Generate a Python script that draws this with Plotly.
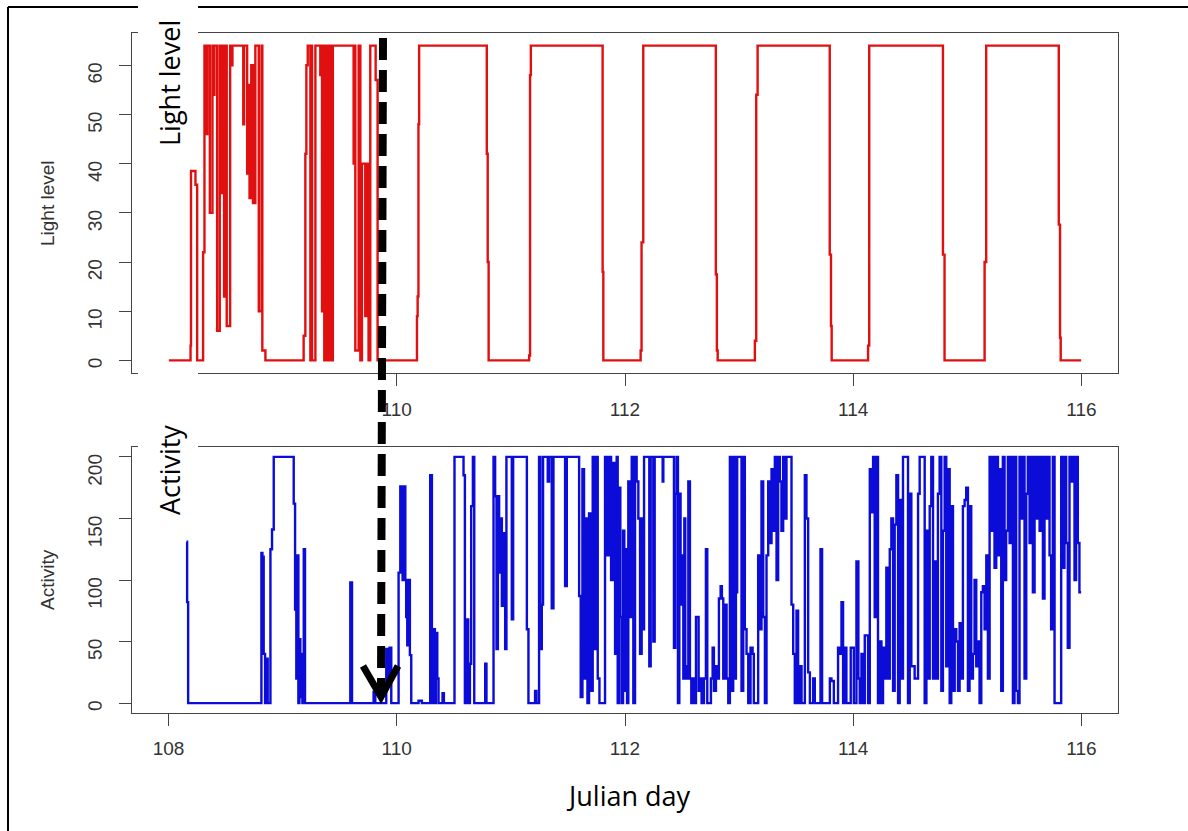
import plotly.graph_objects as go

# ---------------- data ----------------
light_day = [108.003, 108.193, 108.197, 108.236, 108.251, 108.303, 108.315, 108.336, 108.340,
             108.362, 108.385, 108.397, 108.402, 108.426, 108.449, 108.466, 108.472, 108.487,
             108.494, 108.510, 108.540, 108.555, 108.560, 108.655, 108.662, 108.689, 108.700,
             108.710, 108.725, 108.740, 108.761, 108.791, 108.815, 108.822, 108.849,
             109.184, 109.199, 109.208, 109.220, 109.243, 109.250, 109.258, 109.287, 109.330,
             109.335, 109.345, 109.352, 109.365, 109.374, 109.389, 109.398, 109.410, 109.420,
             109.433, 109.440, 109.622, 109.630, 109.637, 109.666, 109.681, 109.695, 109.724,
             109.735, 109.753, 109.768, 109.815, 109.832,
             110.177, 110.183, 110.190, 110.196, 110.789, 110.797, 110.805, 110.813,
             111.160, 111.168, 111.175, 111.804, 111.810, 111.816,
             112.137, 112.145, 112.150, 112.160, 112.796, 112.805, 112.812, 112.817,
             113.138, 113.150, 113.162, 113.794, 113.805, 113.811, 113.818,
             114.130, 114.140, 114.786, 114.800, 114.807,
             115.151, 115.165, 115.801, 115.812, 115.818, 115.824, 115.997]
light_value = [0, 3, 38.5, 35.7, 0, 22, 64, 46, 64,
               30, 64, 54, 64, 6, 64, 34, 64, 13,
               64, 7, 64, 60, 64, 48, 64, 38, 56,
               33, 60, 32, 64, 10, 64, 2, 0,
               5, 42, 60, 64, 0, 64, 0, 64, 58,
               64, 10, 64, 0, 64, 0, 64, 0, 64,
               0, 64, 40, 64, 2, 64, 0, 40, 9,
               40, 0, 64, 57, 0,
               9, 13, 48, 64, 42, 20, 0, 0,
               1, 58, 64, 18, 0, 0,
               2, 24, 24, 64, 17.5, 2, 0, 0,
               4, 54, 64, 21.5, 7, 0, 0,
               3, 64, 21.5, 0, 0,
               20, 64, 27.6, 4.6, 0, 0, 0]

activity_day = [108.158, 108.163, 108.172, 108.814, 108.823, 108.834, 108.846, 108.858, 108.869,
                108.893, 108.907, 108.922, 109.097, 109.109, 109.120, 109.129, 109.138, 109.147,
                109.155, 109.164, 109.173, 109.185, 109.196, 109.593, 109.608, 109.797, 109.812,
                109.908, 109.923, 109.937, 109.952,
                110.016, 110.031, 110.051, 110.060, 110.075, 110.083, 110.092, 110.104, 110.115,
                110.127, 110.191, 110.220, 110.293, 110.308, 110.323, 110.334, 110.343, 110.355,
                110.366, 110.401, 110.413, 110.506, 110.585, 110.597, 110.614, 110.626, 110.641,
                110.652, 110.667, 110.679, 110.775, 110.786, 110.848, 110.862, 110.874, 110.886,
                110.897, 110.909, 110.921, 110.935, 110.950, 110.961, 111.008, 111.020, 111.140,
                111.154, 111.212, 111.224, 111.247, 111.259, 111.271, 111.282, 111.323, 111.335,
                111.358, 111.373, 111.475, 111.490, 111.598, 111.612, 111.627, 111.641, 111.656,
                111.671, 111.685, 111.700, 111.717, 111.732, 111.746, 111.761, 111.776, 111.825,
                111.843, 111.860, 111.878, 111.892, 111.913, 111.927, 111.936, 111.948, 111.959,
                111.971, 111.983, 111.994, 112.006, 112.018, 112.029, 112.041,
                112.059, 112.073, 112.088, 112.102, 112.117, 112.132, 112.146, 112.155, 112.167,
                112.213, 112.225, 112.248, 112.260, 112.330, 112.336, 112.429, 112.441, 112.452,
                112.464, 112.476, 112.487, 112.499, 112.511, 112.520, 112.528, 112.540, 112.555,
                112.569, 112.581, 112.593, 112.604, 112.622, 112.645, 112.657, 112.671, 112.692,
                112.709, 112.721, 112.753, 112.768, 112.779, 112.797, 112.811, 112.823, 112.838,
                112.849, 112.861, 112.876, 112.890, 112.905, 112.919, 112.937, 112.948, 112.963,
                112.972, 112.983, 113.021, 113.036, 113.050, 113.065, 113.080, 113.100, 113.118,
                113.129, 113.167, 113.182, 113.196, 113.211, 113.226, 113.240, 113.255, 113.269,
                113.284, 113.298, 113.313, 113.328, 113.342, 113.357, 113.371, 113.386, 113.401,
                113.415, 113.459, 113.474, 113.488, 113.503, 113.517, 113.532, 113.547, 113.576,
                113.590, 113.605, 113.620, 113.649, 113.663, 113.713, 113.727, 113.795, 113.809,
                113.830, 113.867, 113.882, 113.897, 113.911, 113.926, 113.940, 113.978, 113.993,
                114.005, 114.028, 114.045,
                114.057, 114.072, 114.086, 114.101, 114.115, 114.130, 114.145, 114.159, 114.174,
                114.188, 114.203, 114.217, 114.232, 114.247, 114.261, 114.276, 114.290, 114.305,
                114.320, 114.334, 114.349, 114.363, 114.378, 114.393, 114.407, 114.422, 114.436,
                114.465, 114.480, 114.495, 114.509, 114.524, 114.538, 114.568, 114.582, 114.611,
                114.626, 114.641, 114.655, 114.670, 114.684, 114.699, 114.713, 114.728, 114.742,
                114.757, 114.772, 114.786, 114.801, 114.815, 114.830, 114.845, 114.859, 114.874,
                114.889, 114.903, 114.918, 114.932, 114.947, 114.961, 114.976, 114.990, 115.005,
                115.019, 115.034, 115.049, 115.063, 115.078, 115.093, 115.107, 115.122, 115.136,
                115.151, 115.166, 115.180, 115.195, 115.209, 115.224, 115.238, 115.253, 115.268,
                115.282, 115.297, 115.311, 115.326, 115.340, 115.355, 115.370, 115.384, 115.399,
                115.413, 115.428, 115.443, 115.457, 115.472, 115.487, 115.501, 115.516, 115.530,
                115.545, 115.560, 115.574, 115.589, 115.603, 115.618, 115.633, 115.647, 115.662,
                115.676, 115.691, 115.705, 115.720, 115.734, 115.749, 115.764, 115.822, 115.837,
                115.851, 115.866, 115.880, 115.895, 115.909, 115.924, 115.939, 115.953, 115.968,
                115.982, 115.997]
activity_value = [131, 82, 0, 122, 119, 40, 0, 36, 0,
                  125, 141, 200, 162, 76, 20, 120, 0, 52,
                  5, 40, 0, 125, 0, 98, 0, 9, 0,
                  44, 20, 45, 0,
                  106, 176, 100, 176, 100, 70, 47, 100, 39,
                  0, 2, 0, 185, 0, 60, 0, 57, 20,
                  0, 8, 0, 200, 185, 0, 68, 0, 32,
                  160, 200, 0, 32, 0, 200, 168, 44, 168,
                  106, 150, 79, 138, 44, 200, 68, 200, 60,
                  0, 10, 0, 200, 44, 80, 200, 180, 200,
                  77, 200, 95, 200, 87, 5, 190, 20, 150,
                  0, 154, 10, 200, 44, 200, 20, 0, 200,
                  120, 200, 100, 195, 40, 200, 0, 175, 70,
                  0, 140, 10, 125, 0, 180, 70,
                  200, 0, 200, 180, 150, 40, 150, 60, 200,
                  30, 200, 50, 200, 180, 200, 45, 170, 200,
                  0, 170, 80, 120, 20, 150, 30, 20, 180,
                  20, 0, 20, 0, 70, 10, 20, 0, 20,
                  125, 0, 20, 45, 10, 30, 20, 85, 95,
                  85, 20, 80, 20, 0, 200, 10, 200, 20,
                  90, 200, 10, 200, 60, 40, 0, 45, 40,
                  0, 120, 60, 180, 70, 0, 120, 180, 130,
                  190, 140, 200, 100, 200, 180, 140, 200, 150,
                  200, 80, 40, 0, 75, 0, 30, 0, 185,
                  150, 25, 0, 20, 0, 125, 0, 20, 18,
                  0, 45, 40, 82, 0, 45, 0, 45, 45,
                  0, 115, 20,
                  0, 40, 0, 55, 55, 0, 190, 155, 200,
                  70, 200, 0, 50, 0, 45, 20, 110, 20,
                  125, 150, 10, 145, 185, 0, 165, 20, 200,
                  200, 0, 170, 30, 30, 20, 170, 200, 200,
                  0, 140, 20, 160, 200, 20, 115, 20, 170,
                  200, 10, 140, 200, 30, 190, 0, 160, 10,
                  60, 50, 10, 65, 20, 160, 165, 175, 10,
                  160, 20, 40, 100, 30, 50, 0, 90, 95,
                  60, 120, 20, 200, 140, 200, 110, 200, 120,
                  190, 10, 200, 100, 140, 200, 130, 200, 0,
                  200, 10, 0, 200, 150, 200, 20, 170, 200,
                  130, 200, 90, 200, 150, 200, 140, 200, 85,
                  200, 150, 200, 120, 60, 200, 0, 200, 110,
                  200, 130, 45, 200, 180, 200, 100, 200, 130,
                  90, 90]

x_ticks = [108, 110, 112, 114, 116]
light_ticks = [0, 10, 20, 30, 40, 50, 60]
activity_ticks = [0, 50, 100, 150, 200]

# ---------------- layout helpers ----------------
W, H = 1188, 831


def px(x):
    return x / W


def py(y):
    return 1 - y / H


tick_font = dict(family="Liberation Sans, Arial", size=19, color="#333333")
axis_common = dict(showgrid=False, zeroline=False, showline=True, mirror=True,
                   linecolor="#444444", linewidth=1.3, ticks="outside", ticklen=12,
                   tickwidth=1.3, tickcolor="#444444", tickfont=tick_font)

fig = go.Figure()
fig.add_trace(go.Scatter(x=light_day, y=light_value, mode="lines",
                         line=dict(color="#e01010", width=2.4, shape="hv"),
                         xaxis="x", yaxis="y", showlegend=False))
fig.add_trace(go.Scatter(x=activity_day, y=activity_value, mode="lines",
                         line=dict(color="#0c0cd8", width=2.4, shape="hv"),
                         xaxis="x2", yaxis="y2", showlegend=False))

xr = [107.68, 116.32]
fig.update_layout(
    width=W, height=H,
    margin=dict(l=0, r=0, t=0, b=0),
    paper_bgcolor="white", plot_bgcolor="white",
    xaxis=dict(domain=[px(132), px(1118)], range=xr, anchor="y",
               tickvals=x_ticks, ticklabelstandoff=7, **axis_common),
    yaxis=dict(domain=[py(373), py(33)], range=[-2.56, 66.56], anchor="x",
               tickvals=light_ticks, tickangle=-89.9, ticklabelstandoff=23, **axis_common),
    xaxis2=dict(domain=[px(132), px(1118)], range=xr, anchor="y2",
                tickvals=x_ticks, ticklabelstandoff=6, **axis_common),
    yaxis2=dict(domain=[py(713), py(447)], range=[-8, 208], anchor="x2",
                tickvals=activity_ticks, tickangle=-89.9, ticklabelstandoff=23, **axis_common),
)

shapes = []
# outer frame (only left and top visible)
shapes.append(dict(type="line", xref="paper", yref="paper", x0=px(8), x1=px(8),
                   y0=py(7), y1=py(840), line=dict(color="black", width=2), layer="above"))
shapes.append(dict(type="line", xref="paper", yref="paper", x0=px(8), x1=px(1195),
                   y0=py(7), y1=py(7), line=dict(color="black", width=2), layer="above"))
# white boxes behind the large labels
shapes.append(dict(type="rect", xref="paper", yref="paper", x0=px(138), x1=px(198),
                   y0=py(0), y1=py(160), fillcolor="white", line=dict(width=0), layer="above"))
shapes.append(dict(type="rect", xref="paper", yref="paper", x0=px(138), x1=px(198),
                   y0=py(365), y1=py(535), fillcolor="white", line=dict(width=0), layer="above"))
# dashed arrow
shapes.append(dict(type="line", xref="paper", yref="paper", x0=px(383), x1=px(381),
                   y0=py(38), y1=py(690), line=dict(color="black", width=8, dash="22px,10px"),
                   layer="above"))
shapes.append(dict(type="path", xref="paper", yref="paper",
                   path=f"M {px(363)} {py(666)} L {px(381)} {py(697)} L {px(398)} {py(666)}",
                   line=dict(color="black", width=7), layer="above"))
fig.update_layout(shapes=shapes)

small = dict(family="Liberation Sans, Arial", size=19, color="#333333")
big = dict(family="Open Sans", size=27, color="black")
annotations = [
    dict(text="Light level", x=px(47), y=py(203), textangle=-90, font=small),
    dict(text="Activity", x=px(47), y=py(580), textangle=-90, font=small),
    dict(text="Light level", x=px(169), y=py(83), textangle=-90, font=big),
    dict(text="Activity", x=px(169), y=py(470), textangle=-90, font=big),
    dict(text="Julian day", x=px(628), y=py(795), font=big),
]
for a in annotations:
    a.update(xref="paper", yref="paper", showarrow=False, xanchor="center", yanchor="middle")
fig.update_layout(annotations=annotations)

fig.write_html("out.html")
